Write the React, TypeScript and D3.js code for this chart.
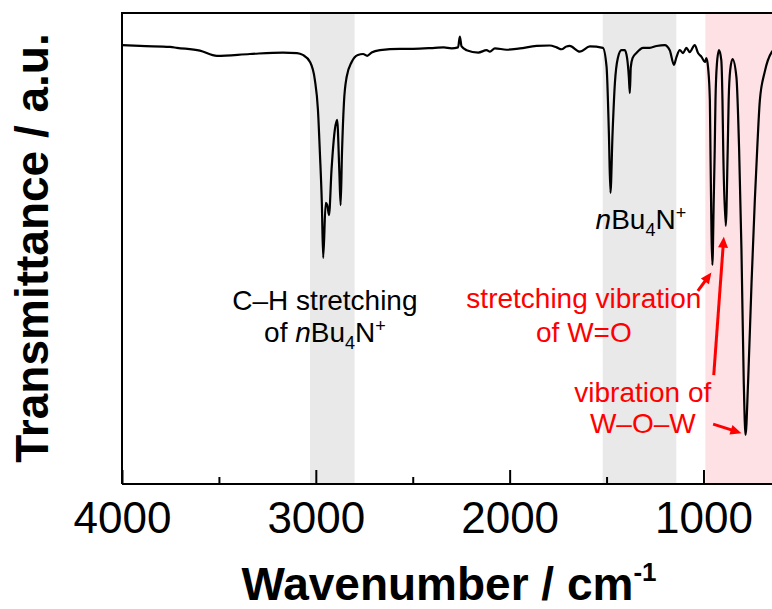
import React, { useRef, useEffect } from "react";
import * as d3 from "d3";

// IR spectrum (wavenumber in cm-1, transmittance in a.u.)
const wavenumbers = [
  4000, 3907, 3752, 3716, 3598, 3510, 3340, 3170, 3097, 3067, 3030, 3005, 2989,
  2979, 2969, 2962, 2949, 2941, 2932, 2919, 2902, 2890, 2879, 2872, 2865, 2855,
  2841, 2815, 2783, 2756, 2735, 2712, 2669, 2566, 2498, 2386, 2340, 2300, 2266,
  2257, 2248, 2222, 2162, 2119, 2102, 2076, 2016, 1947, 1861, 1793, 1758, 1732,
  1707, 1690, 1638, 1586, 1519, 1500, 1488, 1480, 1469, 1457, 1442, 1423, 1406,
  1394, 1385, 1380, 1375, 1366, 1346, 1311, 1277, 1242, 1200, 1174, 1152, 1139,
  1122, 1105, 1088, 1071, 1045, 1028, 1010, 993, 985, 976, 967, 964, 954, 947,
  942, 938, 931, 920, 908, 902, 898, 885, 875, 870, 862, 850, 830, 816, 804, 792,
  783, 770, 752, 735, 723, 709, 684, 648, 640,
];
const transmittance = [
  93.2, 93.0, 92.8, 92.6, 92.0, 90.9, 91.3, 91.6, 91.5, 91.1, 89.6, 85.8, 79.4,
  70.3, 59.7, 48.0, 59.7, 59.2, 57.1, 66.7, 75.2, 77.3, 66.7, 59.2, 70.3, 80.9,
  86.4, 89.6, 91.1, 91.3, 90.9, 91.6, 92.1, 92.4, 92.4, 92.6, 92.7, 92.5, 92.7,
  95.0, 92.9, 92.1, 91.6, 92.1, 91.8, 92.5, 92.2, 92.5, 93.0, 93.1, 92.7, 92.3,
  92.9, 93.0, 91.8, 92.9, 92.6, 88.6, 74.5, 61.8, 74.5, 85.1, 90.4, 92.1, 92.1,
  90.4, 86.4, 83.0, 88.5, 90.4, 91.5, 92.6, 92.6, 93.0, 93.2, 92.1, 89.0, 90.7,
  92.1, 91.5, 92.6, 91.7, 93.2, 91.5, 90.7, 89.6, 90.4, 88.3, 81.5, 70.9, 46.5,
  60.3, 70.9, 81.5, 89.0, 92.1, 90.0, 81.5, 70.9, 54.8, 70.9, 81.5, 87.9, 90.2,
  86.4, 70.9, 49.7, 21.4, 10.4, 21.4, 42.7, 60.3, 70.9, 81.5, 87.5, 91.7, 92.1,
];

// highlighted regions [from, to] in cm-1
const bandFrom = [3030, 1520, 990];
const bandTo = [2800, 1140, 600];
const bandColors = ["#e9e9e9", "#e9e9e9", "#fde1e4"];

const majorTicks = [4000, 3000, 2000, 1000];
const minorTicks = [3500, 2500, 1500];

const FONT = "'Liberation Sans', Arial, sans-serif";
const RED = "#ff0000";

// red arrows: start (wn, T) -> tip (wn, T)
const arrowStartWn = [1029, 947, 950];
const arrowStartT = [41.0, 23.1, 12.7];
const arrowTipWn = [959, 895, 804];
const arrowTipT = [44.9, 52.5, 10.8];

const App = () => {
  const svgRef = useRef(null);

  const drawChart = () => {
    const svg = d3.select(svgRef.current);
    svg.selectAll("*").remove();
    const width = 772;
    const margin = { top: 13, left: 122 };
    const plotRight = 781;

    const xScale = d3.scaleLinear().domain([4000, 600]).range([margin.left, plotRight]);
    const yScale = d3.scaleLinear().domain([0, 100]).range([484, margin.top]);

    /* shaded bands */
    svg
      .append("g")
      .selectAll("rect")
      .data(bandFrom)
      .enter()
      .append("rect")
      .attr("x", (d) => xScale(d))
      .attr("y", margin.top)
      .attr("width", (d, i) => xScale(bandTo[i]) - xScale(d))
      .attr("height", yScale(0) - margin.top)
      .attr("fill", (d, i) => bandColors[i]);

    /* spectrum */
    const points = wavenumbers.map((w, i) => [w, transmittance[i]]);
    const line = d3
      .line()
      .x((d) => xScale(d[0]))
      .y((d) => yScale(d[1]))
      .curve(d3.curveMonotoneX);
    svg
      .append("path")
      .datum(points)
      .attr("d", line)
      .attr("fill", "none")
      .attr("stroke", "#000")
      .attr("stroke-width", 2.2)
      .attr("stroke-linejoin", "round");

    /* frame: left and top */
    svg
      .append("path")
      .attr("d", `M${margin.left},${yScale(0)}V${margin.top}H${width + 20}`)
      .attr("fill", "none")
      .attr("stroke", "#000")
      .attr("stroke-width", 2);

    /* x axis with inward ticks */
    const xAxis = d3
      .axisBottom(xScale)
      .tickValues(majorTicks)
      .tickFormat(d3.format("d"))
      .tickSizeInner(-14)
      .tickSizeOuter(0)
      .tickPadding(18);
    const gx = svg
      .append("g")
      .attr("transform", `translate(0, ${yScale(0)})`)
      .call(xAxis);
    gx.select(".domain").attr("stroke-width", 2).attr("d", `M${margin.left},0H${width + 20}`);
    gx.selectAll(".tick line").attr("stroke-width", 2);
    gx.selectAll(".tick text")
      .attr("font-family", FONT)
      .attr("font-size", 44)
      .attr("fill", "#000");

    const xMinor = d3.axisBottom(xScale).tickValues(minorTicks).tickSizeInner(-7).tickSizeOuter(0).tickFormat(() => "");
    const gm = svg.append("g").attr("transform", `translate(0, ${yScale(0)})`).call(xMinor);
    gm.select(".domain").remove();
    gm.selectAll(".tick line").attr("stroke-width", 2);

    /* axis titles */
    const xt = svg
      .append("text")
      .attr("x", 449)
      .attr("y", 600)
      .attr("text-anchor", "middle")
      .attr("font-family", FONT)
      .attr("font-weight", "bold")
      .attr("font-size", 46);
    xt.append("tspan").text("Wavenumber / cm");
    xt.append("tspan").attr("font-size", 26).attr("dy", -19).text("-1");

    svg
      .append("text")
      .attr("transform", "rotate(-90)")
      .attr("x", -248)
      .attr("y", 48)
      .attr("text-anchor", "middle")
      .attr("font-family", FONT)
      .attr("font-weight", "bold")
      .attr("font-size", 46)
      .text("Transmittance / a.u.");

    /* annotations */
    const addBu4N = (sel) => {
      sel.append("tspan").attr("font-style", "italic").text("n");
      sel.append("tspan").text("Bu");
      sel.append("tspan").attr("font-size", 18).attr("dy", 7).text("4");
      sel.append("tspan").attr("dy", -7).text("N");
      sel.append("tspan").attr("font-size", 18).attr("dy", -10).text("+");
    };

    const note = (wn, t, color) =>
      svg
        .append("text")
        .attr("x", xScale(wn))
        .attr("y", yScale(t))
        .attr("text-anchor", "middle")
        .attr("font-family", FONT)
        .attr("font-size", 28)
        .attr("fill", color);

    note(2953, 36.9, "#000").text("C\u2013H stretching");
    const ch2 = note(2953, 30.1, "#000");
    ch2.append("tspan").text("of ");
    addBu4N(ch2);

    addBu4N(note(1323, 54.1, "#000"));

    note(1617, 37.4, RED).text("stretching vibration");
    note(1617, 30.1, RED).text("of W=O");
    note(1313, 17.4, RED).text("vibration of");
    note(1313, 10.8, RED).text("W\u2013O\u2013W");

    /* red arrows */
    arrowStartWn.forEach((w, i) => {
      const x1 = xScale(w);
      const y1 = yScale(arrowStartT[i]);
      const x2 = xScale(arrowTipWn[i]);
      const y2 = yScale(arrowTipT[i]);
      const len = Math.hypot(x2 - x1, y2 - y1);
      const ux = (x2 - x1) / len;
      const uy = (y2 - y1) / len;
      const headL = 11;
      const headW = 5;
      const bx = x2 - ux * headL;
      const by = y2 - uy * headL;
      svg
        .append("line")
        .attr("x1", x1)
        .attr("y1", y1)
        .attr("x2", bx + ux * 2)
        .attr("y2", by + uy * 2)
        .attr("stroke", RED)
        .attr("stroke-width", 3);
      svg
        .append("path")
        .attr(
          "d",
          `M${x2},${y2}L${bx - uy * headW},${by + ux * headW}L${bx + uy * headW},${by - ux * headW}Z`
        )
        .attr("fill", RED);
    });
  };

  useEffect(() => {
    drawChart();
  }, []);

  return (
    <svg
      ref={svgRef}
      width={772}
      height={609}
      style={{ position: "absolute", left: 0, top: 0, background: "#fff" }}
    ></svg>
  );
};

export default App;
